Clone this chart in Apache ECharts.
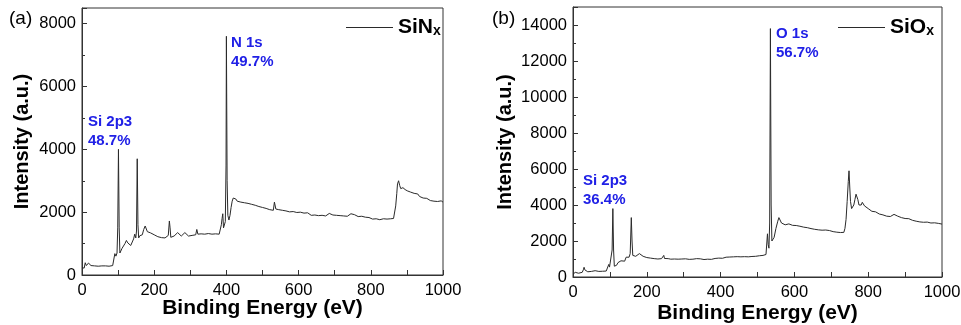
<!DOCTYPE html>
<html><head><meta charset="utf-8">
<script src="https://cdn.jsdelivr.net/npm/echarts@6/dist/echarts.min.js"></script>
<style>html,body{margin:0;padding:0;background:#fff}#c{width:961px;height:325px}</style>
</head><body><div id="c"></div>
<script>
// ---- data ----
const sinxEnergy = [0,3,6,9,12,15,18,21,25,30,35,40,45,50,55,60,65,70,75,80,85,88,91,94,97,99,101,103,105,108,111,115,119,123,127,131,135,140,143,146,149,151,153,155,157,160,163,167,171,175,178,181,185,190,195,200,205,210,215,220,225,230,235,239,242,244,246,250,255,260,265,270,275,280,285,290,295,300,305,310,315,318,321,325,330,335,340,345,350,355,360,365,370,375,380,384,386,388,390,392,395,397,399,400,402,404,407,410,413,416,419,422,426,430,435,440,445,450,455,460,465,470,475,480,485,490,495,500,505,510,515,520,525,530,533,537,540,545,550,555,560,565,570,575,580,585,590,595,600,605,610,615,620,625,630,635,640,645,650,655,660,665,670,675,680,685,690,695,700,705,710,715,720,725,730,735,740,745,750,755,760,765,770,775,780,785,790,795,800,805,810,815,820,825,830,835,840,845,850,855,860,863,866,869,872,874,877,880,883,886,889,892,895,898,901,905,910,915,920,925,930,935,940,945,950,955,960,965,970,975,980,985,990,995,1000];
const sinxIntensity = [230,280,220,390,300,260,380,330,300,310,290,300,280,300,290,280,290,270,280,290,300,330,680,600,700,1500,4000,1500,700,750,850,900,1000,1100,1020,960,940,930,1150,1300,1180,1400,3700,1600,1180,1250,1300,1280,1450,1560,1500,1380,1350,1340,1300,1280,1260,1220,1200,1190,1220,1180,1230,1260,1720,1500,1200,1220,1240,1250,1350,1300,1240,1270,1350,1290,1240,1250,1260,1240,1280,1450,1300,1280,1310,1290,1300,1280,1320,1290,1300,1270,1310,1290,1300,1310,1600,1800,1950,1500,1450,1700,3500,7600,3000,1900,1750,1900,2150,2350,2450,2500,2420,2350,2380,2320,2360,2300,2340,2280,2310,2250,2270,2220,2240,2180,2200,2150,2160,2120,2140,2080,2110,2060,2320,2100,2040,2080,2030,2060,2020,2040,2000,2010,1990,2020,1970,1990,1960,2000,1950,1970,1940,1980,1930,1900,1940,1910,1930,1890,1920,1900,1910,1880,1920,1960,1900,1910,1870,1900,1880,1890,1860,1880,1850,1870,1850,1950,1960,1920,1900,1860,1850,1870,1830,1840,1800,1830,1790,1780,1820,1790,1800,1760,1810,1790,1820,1780,1800,1790,1810,1800,1850,2200,2600,2900,3000,2850,2750,2700,2780,2800,2720,2700,2680,2660,2640,2620,2600,2560,2580,2500,2480,2450,2420,2440,2380,2370,2390,2350,2370,2340,2350,2360,2320,2330];
const sioxEnergy = [0,3,6,10,15,20,25,28,30,32,35,40,45,50,55,60,65,70,75,80,85,90,94,97,99,102,104,106,108,110,112,115,118,122,126,130,135,140,144,148,152,155,158,160,162,165,170,175,180,185,190,195,200,205,210,215,220,225,230,235,240,244,246,248,252,258,265,270,275,280,285,290,295,300,305,310,315,320,325,330,335,340,345,350,355,360,365,370,375,380,385,390,395,400,405,410,415,420,425,430,435,440,445,450,455,460,465,470,475,480,485,490,495,500,505,510,515,520,523,525,527,529,531,533,535,537,539,542,545,550,555,558,561,565,570,575,580,585,590,595,600,605,610,615,620,625,630,635,640,645,650,655,660,665,670,675,680,685,690,695,700,705,710,715,720,725,730,734,737,740,743,746,748,750,752,755,758,761,764,767,770,772,775,778,781,784,787,790,795,800,805,810,815,820,825,830,835,840,845,850,855,860,865,870,875,880,885,890,895,900,905,910,915,920,925,930,935,940,945,950,955,960,965,970,975,980,985,990,995,1000];
const sioxIntensity = [150,220,260,200,210,230,260,400,540,400,300,290,300,310,300,350,330,310,300,320,310,330,400,700,550,500,600,1500,3800,1500,600,550,650,800,870,900,850,880,1100,1150,1100,1300,3300,2000,1200,1100,1150,1250,1300,1250,1150,1100,1080,1060,1050,1030,1020,1040,1000,1030,1020,1050,1200,1030,1000,1020,990,1010,1000,1020,990,1010,1000,990,1010,1000,980,1010,990,1000,1020,990,1010,1000,970,1000,990,1020,980,1010,1030,1000,1050,1060,1040,1080,1100,1070,1110,1090,1120,1100,1130,1170,1120,1140,1130,1150,1120,1160,1140,1170,1150,1190,1180,1210,1200,1230,1250,1300,2400,1800,1600,3000,13800,4000,2000,1900,2200,2700,3100,3300,3200,3000,2950,2900,2880,2950,2900,2870,2840,2860,2800,2820,2760,2770,2720,2740,2700,2690,2710,2650,2670,2620,2640,2600,2590,2610,2560,2580,2540,2520,2550,2490,2510,2470,2460,2480,2700,3200,4200,5300,5900,5000,4200,3800,3900,4000,4300,4600,4700,4300,4000,3900,4000,4150,4100,3950,3850,3800,3700,3650,3600,3620,3550,3500,3480,3450,3420,3380,3400,3360,3420,3480,3420,3380,3320,3300,3280,3250,3220,3240,3180,3150,3170,3100,3120,3060,3080,3040,3010,3050,2990,3000,2980,3010,2960,2980,2950,2940];
const xTicks = [0,200,400,600,800,1000];
const leftYMax = 8500, rightYMax = 15000;
const seriesNames = ['SiNx','SiOx'];
const peakLabels = [['N 1s','49.7%'],['Si 2p3','48.7%'],['O 1s','56.7%'],['Si 2p3','36.4%']];

const pair = (xs, ys) => xs.map((x, i) => [x, ys[i]]);
const FONT = '"Liberation Sans", Arial, sans-serif';
const BLUE = '#2020e6';

function xAxisCfg(gi, gap) {
  return {
    gridIndex: gi, type: 'value', min: xTicks[0], max: xTicks[xTicks.length - 1], interval: 200,
    name: 'Binding Energy (eV)', nameLocation: 'middle', nameGap: gap, nameMoveOverlap: false,
    nameTextStyle: { fontFamily: FONT, fontWeight: 'bold', fontSize: 21, color: '#000', verticalAlign: 'top' },
    axisLine: { lineStyle: { color: '#333', width: 1 } },
    axisTick: { inside: true, length: 5, lineStyle: { color: '#333' } },
    minorTick: { show: true, splitNumber: 2, length: 5, lineStyle: { color: '#333' } },
    axisLabel: { fontFamily: FONT, fontSize: 16.5, color: '#000', margin: 7, formatter: v => String(v) },
    splitLine: { show: false }
  };
}
function yAxisCfg(gi, max, gap) {
  return {
    gridIndex: gi, type: 'value', min: 0, max: max, interval: 2000,
    name: 'Intensity (a.u.)', nameLocation: 'middle', nameGap: gap,
    nameTextStyle: { fontFamily: FONT, fontWeight: 'bold', fontSize: 20, color: '#000' },
    axisLine: { lineStyle: { color: '#333', width: 1 } },
    axisTick: { inside: true, length: 5, lineStyle: { color: '#333' } },
    minorTick: { show: true, splitNumber: 2, length: 3, lineStyle: { color: '#333' } },
    axisLabel: { fontFamily: FONT, fontSize: 16.5, color: '#000', margin: 6, showMaxLabel: false,
      formatter: v => (v % 2000 === 0 ? String(v) : '') },
    splitLine: { show: false }
  };
}
function legendCfg(idx, left) {
  return {
    data: [seriesNames[idx]], left: left, top: 12, icon: 'rect', itemWidth: 47, itemHeight: 1,
    formatter: n => '{a|' + n.slice(0, 3) + '}{b|' + n.slice(3) + '}',
    textStyle: { rich: {
      a: { fontFamily: FONT, fontWeight: 'bold', fontSize: 21, color: '#000' },
      b: { fontFamily: FONT, fontWeight: 'bold', fontSize: 14, color: '#000', verticalAlign: 'bottom' }
    } }
  };
}
function annot(x, y, lines) {
  return { type: 'text', left: x, top: y, z: 100,
    style: { text: lines.join('\n'), fontFamily: FONT, fontWeight: 'bold', fontSize: 15, lineHeight: 19.5, fill: BLUE } };
}
function panelLabel(x, txt) {
  return { type: 'text', left: x, top: 9, style: { text: txt, fontFamily: FONT, fontSize: 19, fill: '#000' } };
}

const chart = echarts.init(document.getElementById('c'), null, { renderer: 'canvas' });
chart.setOption({
  backgroundColor: '#fff',
  animation: false,
  grid: [
    { left: 82, top: 8, width: 361, height: 267, show: true, borderColor: '#333', borderWidth: 1, containLabel: false, outerBoundsMode: 'none' },
    { left: 573, top: 7, width: 369, height: 270, show: true, borderColor: '#333', borderWidth: 1, containLabel: false, outerBoundsMode: 'none' }
  ],
  xAxis: [xAxisCfg(0, 23), xAxisCfg(1, 26)],
  yAxis: [yAxisCfg(0, leftYMax, 50), yAxisCfg(1, rightYMax, 58)],
  legend: [legendCfg(0, 341), legendCfg(1, 833)],
  series: [
    { name: seriesNames[0], type: 'line', xAxisIndex: 0, yAxisIndex: 0, data: pair(sinxEnergy, sinxIntensity),
      showSymbol: false, symbol: 'none', lineStyle: { color: '#2a2a2a', width: 1 }, itemStyle: { color: '#2a2a2a' } },
    { name: seriesNames[1], type: 'line', xAxisIndex: 1, yAxisIndex: 1, data: pair(sioxEnergy, sioxIntensity),
      showSymbol: false, symbol: 'none', lineStyle: { color: '#2a2a2a', width: 1 }, itemStyle: { color: '#2a2a2a' } }
  ],
  graphic: [
    panelLabel(9, '(a)'), panelLabel(492, '(b)'),
    annot(231, 33, peakLabels[0]), annot(88, 112, peakLabels[1]),
    annot(776, 24, peakLabels[2]), annot(583, 171, peakLabels[3])
  ]
});
</script></body></html>
